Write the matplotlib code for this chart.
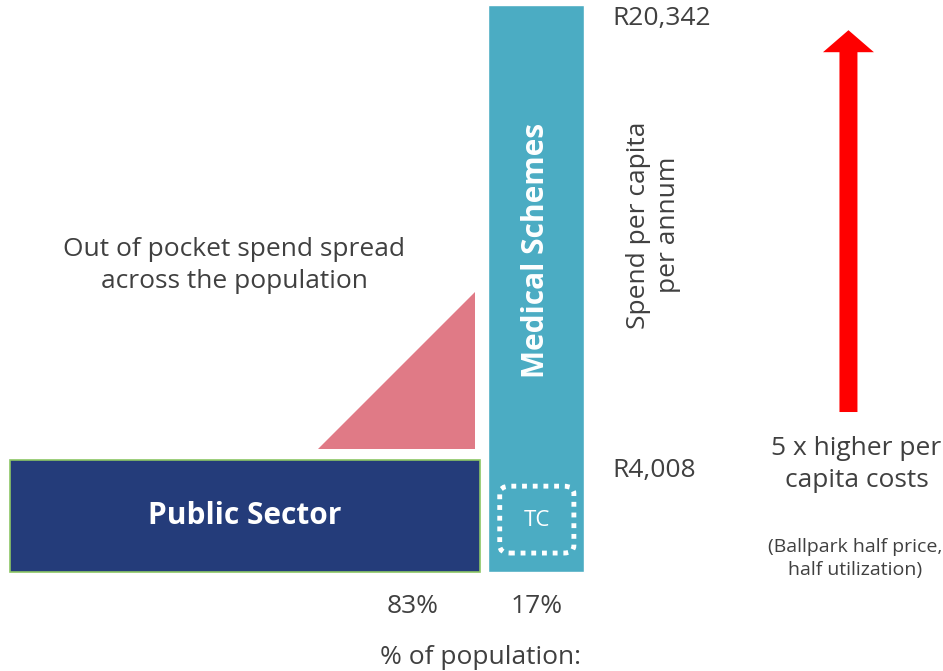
import matplotlib
matplotlib.use('Agg')
import matplotlib.pyplot as plt
from matplotlib.patches import Polygon, FancyBboxPatch, FancyArrow

plt.rcParams['font.family'] = ['Open Sans', 'DejaVu Sans']

sectors = ['Public Sector', 'Medical Schemes']
pop_share = [83, 17]            # % of population
spend = [4008, 20342]           # spend per capita per annum (R)
colors = ['#243C7A', '#4BACC3']

txt = '#404040'

fig = plt.figure(figsize=(9.43, 6.71), dpi=100)
ax = fig.add_axes([0, 0, 1, 1])
ax.set_xlim(-1.77, 164.8)
ax.set_ylim(-3552, 20523)
ax.axis('off')

gap = 1.45
lefts = [0, pop_share[0] + gap]

# public sector bar (wide, short) and medical schemes bar (narrow, tall)
ax.bar(lefts[0], spend[0], width=pop_share[0], align='edge',
       color=colors[0], edgecolor='#8CC665', linewidth=1.2)
ax.bar(lefts[1], spend[1], width=pop_share[1], align='edge',
       color=colors[1], edgecolor='white', linewidth=1)

ax.text(lefts[0] + pop_share[0] / 2, spend[0] / 2, sectors[0], color='white',
        fontsize=21.5, fontweight='bold', ha='center', va='center')
ax.text(lefts[1] + pop_share[1] / 2, 11550, sectors[1], color='white',
        fontsize=21.5, fontweight='bold', ha='center', va='center', rotation=90)

# out of pocket triangle
tri = Polygon([(54.4, 4400), (82.1, 4400), (82.1, 10040)], closed=True,
              color='#E07A86', lw=0)
ax.add_patch(tri)
ax.text(39.6, 11000, 'Out of pocket spend spread\nacross the population',
        color=txt, fontsize=19, ha='center', va='center', linespacing=1.35)

# TC dotted box
tc = FancyBboxPatch((86.5, 680), 13.1, 2400,
                    boxstyle='round,pad=0,rounding_size=1.8',
                    mutation_aspect=150, fill=False, edgecolor='white',
                    linewidth=3.5, linestyle=(0, (1, 1.2)))
ax.add_patch(tc)
ax.text(93.05, 1830, 'TC', color='white', fontsize=16, ha='center', va='center')

# value labels
for v in spend:
    ax.text(106.4, v - 470 if v == spend[1] else v - 370, f'R{v:,}', color=txt,
            fontsize=19, ha='left', va='center')

ax.text(113.6, 12450, 'Spend per capita\nper annum', color=txt, fontsize=19,
        ha='center', va='center', rotation=90, linespacing=1.25)

# population shares
for l, p in zip(lefts, pop_share):
    cx = l + p / 2 if p < 50 else l + p - 11.8
    ax.text(cx, -1250, f'{p}%', color=txt, fontsize=19, ha='center', va='center')
ax.text(83.1, -3050, '% of population:', color=txt, fontsize=19,
        ha='center', va='center')

# red arrow
arr = FancyArrow(148.1, 5740, 0, 13700, width=3.18, head_width=9.0,
                 head_length=790, length_includes_head=True,
                 color='#FF0000', lw=0)
ax.add_patch(arr)
ax.text(149.5, 3850, '5 x higher per\ncapita costs', color=txt, fontsize=19,
        ha='center', va='center', linespacing=1.35)
ax.text(149.3, 500, '(Ballpark half price,\nhalf utilization)', color=txt,
        fontsize=14, ha='center', va='center', linespacing=1.35)

fig.savefig('out.png', dpi=100)
